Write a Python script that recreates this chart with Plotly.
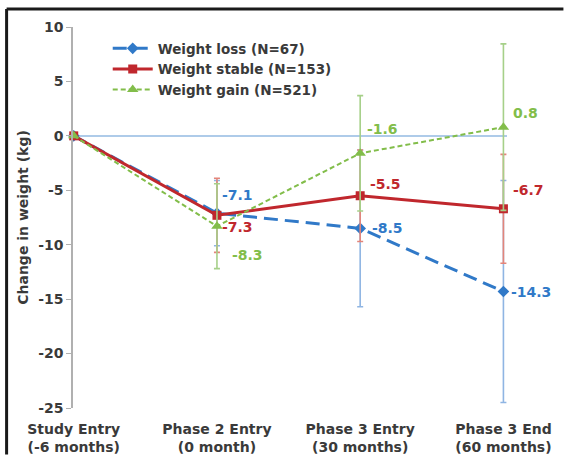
import plotly.graph_objects as go

# Categories and series values (change in weight, kg)
categories = ["Study Entry<br>(-6 months)", "Phase 2 Entry<br>(0 month)",
              "Phase 3 Entry<br>(30 months)", "Phase 3 End<br>(60 months)"]
loss_vals = [0, -7.1, -8.5, -14.3]
stable_vals = [0, -7.3, -5.5, -6.7]
gain_vals = [0, -8.3, -1.6, 0.8]
loss_err = [0, 3.0, 7.2, 10.2]
stable_err = [0, 3.4, 4.2, 5.0]
gain_err = [0, 3.9, 5.3, 7.65]
series_names = ["Weight loss (N=67)", "Weight stable (N=153)", "Weight gain (N=521)"]
y_ticks = [10, 5, 0, -5, -10, -15, -20, -25]

FONT = "DejaVu Sans"
TEXT = "#3a3a3a"
BLUE, RED, GREEN = "#3079c8", "#c0272d", "#82bd4a"
BLUE_LT, RED_LT, GREEN_LT = "#8fb5e3", "#e3857a", "#a6d089"

x = list(range(len(categories)))

fig = go.Figure()

specs = [
    (loss_vals, loss_err, series_names[0], BLUE, BLUE_LT, "14px,7px", 3, "diamond", 9),
    (stable_vals, stable_err, series_names[1], RED, RED_LT, "solid", 3, "square", 9),
    (gain_vals, gain_err, series_names[2], GREEN, GREEN_LT, "5px,3px", 2, "triangle-up", 10),
]
for vals, err, name, col, col_lt, dash, lw, sym, ms in specs:
    fig.add_trace(go.Scatter(
        x=x, y=vals, name=f"<b>{name}</b>", mode="lines+markers",
        line=dict(color=col, width=lw, dash=dash),
        marker=dict(symbol=sym, size=ms, color=col),
        error_y=dict(type="data", array=err, visible=True,
                     color=col_lt, thickness=1.6, width=3),
        cliponaxis=False,
    ))

# Value labels beside each point (skip the baseline point)
label_offsets = {
    "loss": [(0, 0), (21, 18), (27, 0), (28, 0)],
    "stable": [(0, 0), (21, -12), (25, 12), (25, 19)],
    "gain": [(0, 0), (31, -29), (22, 24), (22, 14)],
}
for key, vals, col in [("loss", loss_vals, BLUE), ("stable", stable_vals, RED),
                       ("gain", gain_vals, GREEN)]:
    for i, v in enumerate(vals):
        if i == 0:
            continue
        dx, dy = label_offsets[key][i]
        fig.add_annotation(x=i, y=v, text=f"<b>{v:.1f}</b>", showarrow=False,
                           xshift=dx, yshift=dy,
                           font=dict(family=FONT, size=14, color=col))

# Outer frame (left and top edges)
fig.add_shape(type="line", xref="paper", yref="paper", x0=-0.153, x1=-0.153,
              y0=-0.122, y1=1.047, line=dict(color="#1a1a1a", width=3))
fig.add_shape(type="line", xref="paper", yref="paper", x0=-0.153, x1=1.13,
              y0=1.047, y1=1.047, line=dict(color="#1a1a1a", width=3))

fig.update_layout(
    width=564, height=467,
    margin=dict(l=73, r=50, t=27, b=56),
    paper_bgcolor="white", plot_bgcolor="white",
    font=dict(family=FONT, color=TEXT, size=14),
    showlegend=True,
    legend=dict(x=0.08, y=0.984, xanchor="left", yanchor="top",
                bgcolor="rgba(0,0,0,0)", font=dict(family=FONT, size=13.5, color=TEXT),
                itemwidth=40, tracegroupgap=0),
    xaxis=dict(range=[-0.005, 3.025], tickmode="array", tickvals=x,
               ticktext=[f"<b>{c}</b>" for c in categories],
               showline=False, showgrid=False, zeroline=False, ticks="",
               ticklabelstandoff=11,
               tickfont=dict(family=FONT, size=14, color=TEXT)),
    yaxis=dict(range=[-25, 10], tickmode="array", tickvals=y_ticks,
               ticktext=[f"<b>{t}</b>" for t in y_ticks],
               showline=True, linecolor="#b0b0b0", linewidth=1.5,
               ticks="outside", ticklen=5, tickcolor="#b0b0b0",
               showgrid=False, zeroline=True, zerolinecolor="#aecbe9", zerolinewidth=1.5,
               tickfont=dict(family=FONT, size=14, color=TEXT),
               title=dict(text="<b>Change in weight (kg)</b>",
                          font=dict(family=FONT, size=14, color=TEXT), standoff=6)),
)

fig.write_html("out.html")
